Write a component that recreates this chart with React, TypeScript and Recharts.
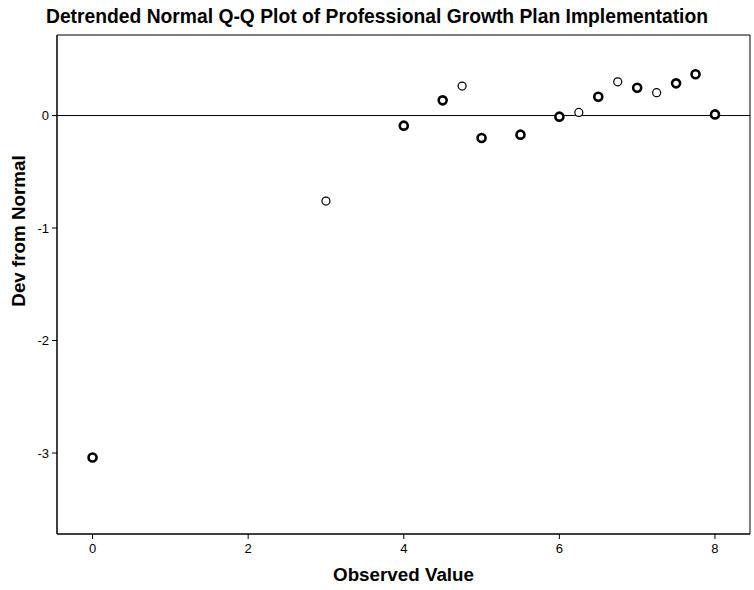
import { ScatterChart, Scatter, XAxis, YAxis, ReferenceLine, ReferenceArea } from 'recharts';

// observed values with several overlapping cases (drawn with a heavier ring)
const observedHeavy = [0, 4, 4.5, 5, 5.5, 6, 6.5, 7, 7.5, 7.75, 8];
const devHeavy = [-3.04, -0.09, 0.135, -0.2, -0.17, -0.01, 0.167, 0.247, 0.286, 0.367, 0.01];

// single cases
const observedLight = [3, 4.75, 6.25, 6.75, 7.25];
const devLight = [-0.76, 0.262, 0.028, 0.3, 0.203];

const xTicks = [0, 2, 4, 6, 8];
const yTicks = [0, -1, -2, -3];
const xDomain = [-0.457, 8.45];
const yDomain = [-3.72, 0.716];

const heavyData = observedHeavy.map((x, i) => ({ x, y: devHeavy[i] }));
const lightData = observedLight.map((x, i) => ({ x, y: devLight[i] }));

const ring = (sw: number) => (props: any) => (
  <circle cx={props.cx} cy={props.cy} r={4} fill="#fff" stroke="#000" strokeWidth={sw} />
);

const font = '"Liberation Sans", Arial, sans-serif';
const tickStyle = { fill: '#000', fontSize: 13, fontFamily: '"Liberation Sans Narrow", "Liberation Sans", Arial, sans-serif' };

export default function App() {
  return (
    <div style={{ position: 'absolute', left: 0, top: 0, width: 754, height: 590, background: '#fff', fontFamily: font }}>
      <div style={{ position: 'absolute', top: 6, left: 0, width: 754, textAlign: 'center', fontWeight: 'bold', fontSize: 19.3, color: '#000' }}>
        Detrended Normal Q-Q Plot of Professional Growth Plan Implementation
      </div>
      <ScatterChart width={754} height={590} margin={{ top: 35, right: 4, bottom: 0, left: 0 }}>
        <XAxis
          type="number"
          dataKey="x"
          domain={xDomain}
          ticks={xTicks}
          allowDataOverflow
          height={56}
          stroke="#000"
          tickSize={5}
          tickMargin={5}
          tick={tickStyle}
        />
        <YAxis
          type="number"
          dataKey="y"
          domain={yDomain}
          ticks={yTicks}
          allowDataOverflow
          width={57}
          stroke="#000"
          tickSize={5}
          tickMargin={3}
          tick={tickStyle}
        />
        <ReferenceArea x1={xDomain[0]} x2={xDomain[1]} y1={yDomain[0]} y2={yDomain[1]} fill="none" stroke="#000" strokeWidth={1} />
        <ReferenceLine y={0} stroke="#000" strokeWidth={1} />
        <Scatter data={lightData} shape={ring(1.2)} isAnimationActive={false} />
        <Scatter data={heavyData} shape={ring(2.6)} isAnimationActive={false} />
      </ScatterChart>
      <div style={{ position: 'absolute', top: 564, left: 57, width: 693, textAlign: 'center', fontWeight: 'bold', fontSize: 18.8, color: '#000' }}>
        Observed Value
      </div>
      <div
        style={{
          position: 'absolute', left: 19, top: 231, transform: 'translate(-50%, -50%) rotate(-90deg)',
          whiteSpace: 'nowrap', fontWeight: 'bold', fontSize: 18.8, color: '#000',
        }}
      >
        Dev from Normal
      </div>
    </div>
  );
}
